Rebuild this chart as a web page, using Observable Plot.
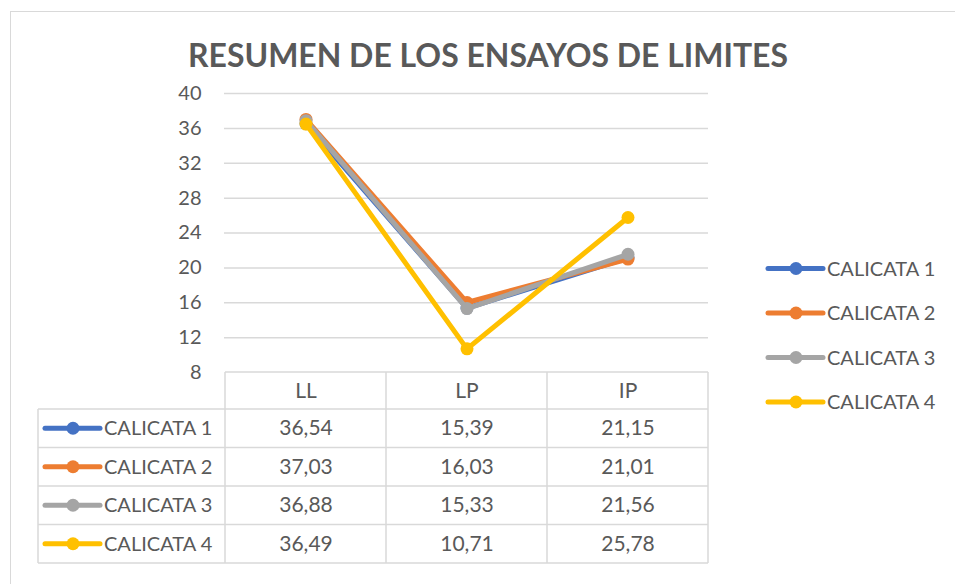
<!DOCTYPE html>
<html>
<head>
<meta charset="utf-8">
<script src="https://cdn.jsdelivr.net/npm/d3@7"></script>
<script src="https://cdn.jsdelivr.net/npm/@observablehq/plot@0.6"></script>
<style>
  html, body { margin: 0; padding: 0; background: #fff; overflow: hidden; }
  #wrap { position: relative; width: 955px; height: 584px; }
  #frame { position: absolute; left: 10px; top: 11px; width: 1000px; height: 700px; border: 1px solid #d9d9d9; pointer-events: none; }
  #title { height: 75px; width: 955px; position: relative; }
  #title span { position: absolute; left: 488px; top: 38px; white-space: nowrap; font-family: Lato, sans-serif; font-weight: bold; font-size: 33px; line-height: 1; color: #595959; transform-origin: center top; }
  svg { display: block; }
</style>
</head>
<body>
<div id="wrap">
  <div id="frame"></div>
  <div id="title"><span>RESUMEN DE LOS ENSAYOS DE LIMITES</span></div>
  <div id="chart"></div>
</div>
<script>
const categories = ["LL", "LP", "IP"];
const seriesNames = ["CALICATA 1", "CALICATA 2", "CALICATA 3", "CALICATA 4"];
const calicata1 = [36.54, 15.39, 21.15];
const calicata2 = [37.03, 16.03, 21.01];
const calicata3 = [36.88, 15.33, 21.56];
const calicata4 = [36.49, 10.71, 25.78];
const yTicks = [8, 12, 16, 20, 24, 28, 32, 36, 40];
const colors = ["#4472C4", "#ED7D31", "#A5A5A5", "#FFC000"];

(function () {
const seriesValues = [calicata1, calicata2, calicata3, calicata4];
const rows = seriesNames.flatMap((s, i) => categories.map((c, j) => ({series: s, cat: c, value: seriesValues[i][j]})));
const fmt = v => v.toFixed(2).replace(".", ",");

const textColor = "#595959";
const gridColor = "#d9d9d9";
const headerH = 37, rowH = 38.5;
const font = "Lato, sans-serif";

const marks = [
  Plot.ruleY(yTicks.slice(1), {stroke: gridColor, strokeWidth: 1.5})
];
seriesNames.forEach((s, i) => {
  const d = rows.filter(r => r.series === s);
  marks.push(Plot.line(d, {x: "cat", y: "value", stroke: "series", strokeWidth: 5, strokeLinejoin: "round"}));
  marks.push(Plot.dot(d, {x: "cat", y: "value", fill: "series", r: 6.5}));
});
marks.push(Plot.text(categories, {x: d => d, y: () => 8, dy: headerH / 2, text: d => d, fill: textColor, fontSize: 21, lineAnchor: "middle"}));
seriesNames.forEach((s, i) => {
  const d = rows.filter(r => r.series === s);
  marks.push(Plot.text(d, {x: "cat", y: () => 8, dy: headerH + rowH * i + rowH / 2, text: r => fmt(r.value), fill: textColor, fontSize: 21, lineAnchor: "middle"}));
});

const plot = Plot.plot({
  width: 955,
  height: 509,
  marginTop: 18,
  marginBottom: 212,
  marginLeft: 224,
  marginRight: 247,
  x: {type: "band", domain: categories, padding: 0, axis: null},
  y: {domain: [8, 40], ticks: yTicks, tickSize: 0, tickPadding: 23, label: null},
  color: {domain: seriesNames, range: colors},
  style: {fontFamily: font, fontSize: "20px", color: textColor, background: "transparent"},
  marks
});
document.getElementById("chart").appendChild(plot);

const xs = plot.scale("x"), ys = plot.scale("y");
const bw = xs.bandwidth;
const leftX = xs.apply(categories[0]);
const rightX = xs.apply(categories[categories.length - 1]) + bw;
const topY = ys.apply(8);
const tableLeft = 38;
const svg = d3.select(plot);
const g = svg.append("g").attr("stroke", gridColor).attr("stroke-width", 1.5);
g.append("line").attr("x1", leftX).attr("x2", rightX).attr("y1", topY).attr("y2", topY);
for (let i = 0; i <= seriesNames.length; i++) {
  const y = topY + headerH + rowH * i;
  g.append("line").attr("x1", tableLeft).attr("x2", rightX).attr("y1", y).attr("y2", y);
}
const bottomY = topY + headerH + rowH * seriesNames.length;
g.append("line").attr("x1", tableLeft).attr("x2", tableLeft).attr("y1", topY + headerH).attr("y2", bottomY);
categories.forEach(c => {
  const x = xs.apply(c);
  g.append("line").attr("x1", x).attr("x2", x).attr("y1", topY).attr("y2", bottomY);
});
g.append("line").attr("x1", rightX).attr("x2", rightX).attr("y1", topY).attr("y2", bottomY);

function legendItem(parent, x0, y, i) {
  const it = parent.append("g");
  it.append("line").attr("x1", x0).attr("x2", x0 + 55).attr("y1", y).attr("y2", y)
    .attr("stroke", colors[i]).attr("stroke-width", 5).attr("stroke-linecap", "round");
  it.append("circle").attr("cx", x0 + 28).attr("cy", y).attr("r", 6.5).attr("fill", colors[i]);
  it.append("text").attr("x", x0 + 59).attr("y", y).attr("dy", "0.35em")
    .attr("text-anchor", "start")
    .attr("fill", textColor).attr("font-size", 20).attr("font-family", font)
    .text(seriesNames[i]);
}
const lg = svg.append("g");
seriesNames.forEach((s, i) => legendItem(lg, 45, topY + headerH + rowH * i + rowH / 2, i));
const legendTop = 193.5, legendStep = 44.5;
seriesNames.forEach((s, i) => legendItem(lg, 768, legendTop + legendStep * i, i));

const t = document.querySelector("#title span");
const w = t.getBoundingClientRect().width;
const sx = 600 / w;
t.style.transform = `translateX(-50%) scaleX(${sx})`;
})();
</script>
</body>
</html>
